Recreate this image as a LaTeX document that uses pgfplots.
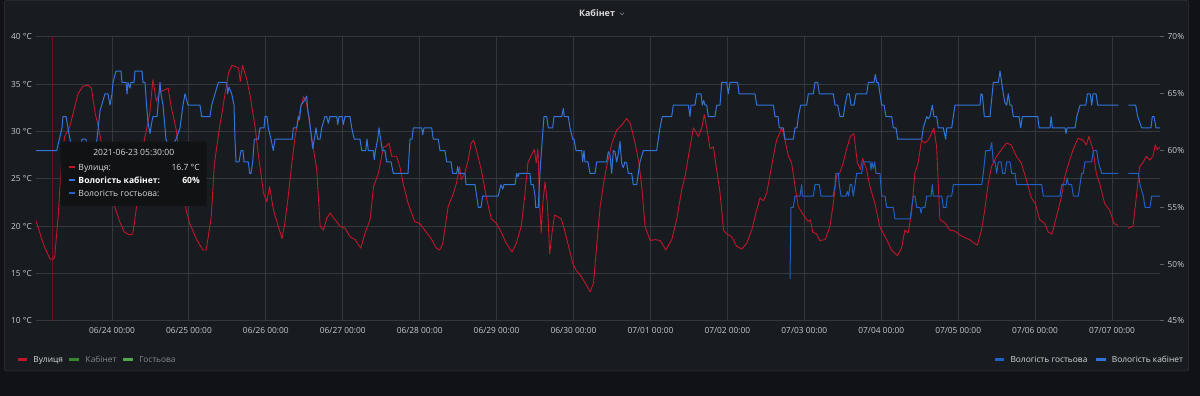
\documentclass[border=0pt]{standalone}
\usepackage{fontspec}
\setmainfont{Open Sans}
\usepackage{pgfplots}
\usepackage{pgfplotstable}
\pgfplotsset{compat=1.18}

\definecolor{bgouter}{HTML}{111217}
\definecolor{panel}{HTML}{181B1F}
\definecolor{panelborder}{HTML}{25282D}
\definecolor{gridc}{HTML}{34373C}
\definecolor{tickc}{HTML}{C7CAD0}
\definecolor{titlec}{HTML}{D8D9DA}
\definecolor{redc}{HTML}{C4162A}
\definecolor{bluek}{HTML}{3274D9}
\definecolor{blueg}{HTML}{1F60C4}
\definecolor{greenk}{HTML}{37872D}
\definecolor{greeng}{HTML}{56A64B}
\definecolor{greytext}{HTML}{85888D}
\definecolor{tipbg}{HTML}{111214}
\definecolor{tickmark}{HTML}{5A5D62}

\newcommand{\tf}{\fontsize{8.4}{10}\selectfont}
\newcommand{\ttf}{\fontsize{8.6}{10}\selectfont}

% Outdoor temperature (days since 06/23 00:00, degC)
\pgfplotstableread{
d T
0.012 20.6
0.104 18.2
0.19 16.6
0.234 16.5
0.255 16.8
0.30 21.0
0.342 26.7
0.385 29.5
0.45 30.5
0.515 32.6
0.558 34.0
0.623 34.8
0.688 34.9
0.732 34.6
0.78 32.0
0.823 30.5
0.87 28.5
0.93 25.8
0.99 23.3
1.035 22.1
1.1 20.5
1.16 19.4
1.23 19.1
1.27 19.2
1.32 22.1
1.37 26.5
1.42 29.1
1.49 31.9
1.532 35.5
1.576 33.2
1.62 34.2
1.68 34.4
1.73 34.6
1.77 32.6
1.835 30.2
1.9 26.0
1.965 21.7
2.01 20.3
2.095 18.7
2.18 17.5
2.225 17.5
2.29 21.0
2.33 26.5
2.385 29.8
2.45 33.0
2.515 36.2
2.558 37.0
2.6 36.9
2.645 36.7
2.667 35.3
2.697 37.0
2.753 35.5
2.797 33.7
2.86 30.5
2.905 27.4
2.97 23.5
3.013 22.6
3.048 24.2
3.1 21.7
3.143 20.5
3.21 18.7
3.25 20.5
3.29 23.1
3.338 26.7
3.38 29.5
3.446 32.3
3.49 33.7
3.53 33.0
3.576 30.5
3.62 28.1
3.662 26.0
3.706 20.0
3.75 19.6
3.79 20.8
3.835 21.4
3.9 20.7
3.965 20.0
4.03 19.8
4.095 18.9
4.16 18.6
4.234 17.7
4.29 19.3
4.355 20.7
4.4 24.2
4.463 25.6
4.53 28.4
4.558 28.4
4.6 28.8
4.636 27.4
4.7 27.4
4.745 26.2
4.785 24.5
4.85 22.4
4.935 20.5
5.0 20.3
5.065 19.6
5.15 18.7
5.216 17.7
5.26 17.5
5.3 18.2
5.37 22.1
5.43 23.3
5.476 24.5
5.52 26.3
5.54 24.9
5.585 25.6
5.63 27.0
5.67 28.8
5.7 29.1
5.736 28.1
5.8 26.0
5.866 23.1
5.93 20.8
6.0 20.3
6.06 19.4
6.125 18.2
6.2 17.3
6.255 18.2
6.32 20.0
6.364 23.1
6.407 26.7
6.45 27.5
6.49 28.1
6.515 26.7
6.537 28.2
6.558 22.4
6.58 19.3
6.6 22.4
6.63 24.7
6.66 22.4
6.69 17.1
6.72 19.3
6.753 21.2
6.8 21.0
6.84 20.8
6.883 19.6
6.926 18.2
6.99 16.1
7.03 15.4
7.1 14.7
7.16 13.9
7.216 13.1
7.26 14.0
7.3 17.9
7.346 22.1
7.39 24.5
7.43 26.3
7.5 28.8
7.563 30.2
7.628 30.7
7.69 31.4
7.736 30.9
7.8 28.8
7.844 27.0
7.887 24.2
7.93 20.0
7.996 18.5
8.06 18.6
8.126 18.5
8.2 17.5
8.277 18.6
8.34 20.7
8.407 23.9
8.45 25.3
8.515 28.4
8.558 30.4
8.623 29.5
8.667 30.4
8.7 31.8
8.73 30.5
8.775 28.2
8.818 28.4
8.86 26.0
8.905 23.5
8.95 19.6
8.99 19.2
9.056 18.9
9.12 17.9
9.186 17.6
9.25 18.2
9.316 19.6
9.38 21.7
9.424 23.0
9.47 22.7
9.51 23.5
9.554 25.4
9.6 27.5
9.64 29.1
9.706 30.4
9.75 29.1
9.79 27.5
9.835 26.7
9.88 24.2
9.922 22.1
9.987 21.2
10.05 20.5
10.08 20.7
10.108 19.4
10.16 19.2
10.2 18.5
10.27 18.6
10.333 20.0
10.377 22.4
10.42 25.4
10.46 25.6
10.506 26.7
10.55 28.2
10.6 29.5
10.645 29.8
10.69 26.7
10.73 26.0
10.757 27.2
10.81 26.0
10.853 24.2
10.918 22.4
10.98 20.0
11.07 18.6
11.134 17.5
11.21 16.9
11.264 17.7
11.307 19.6
11.35 19.3
11.394 21.4
11.437 25.6
11.48 26.7
11.524 29.1
11.567 28.8
11.61 29.1
11.654 29.8
11.684 30.4
11.72 28.4
11.762 20.7
11.827 20.4
11.89 19.6
11.957 19.5
12.02 19.1
12.087 18.8
12.15 18.6
12.195 18.3
12.25 18.0
12.303 19.6
12.346 21.7
12.39 24.5
12.433 26.3
12.5 27.4
12.563 28.1
12.628 28.8
12.69 28.6
12.757 27.4
12.82 26.7
12.887 24.9
12.952 23.0
13.004 22.4
13.06 20.7
13.126 20.3
13.17 19.4
13.22 19.2
13.277 21.0
13.342 23.1
13.385 25.2
13.437 26.7
13.494 28.1
13.558 29.3
13.623 29.1
13.667 28.6
13.7 29.5
13.753 28.1
13.796 25.6
13.84 24.5
13.905 22.4
13.97 21.7
14.026 20.3
14.078 20.1
14.14 nan
14.208 19.8
14.273 20.0
14.316 23.1
14.36 26.3
14.4 26.7
14.446 27.4
14.49 27.0
14.532 27.4
14.563 28.6
14.59 28.1
14.624 28.4
}\redT

% Humidity, cabinet (%)
\pgfplotstableread{
d H
0.012 60
0.281 60
0.315 61
0.35 62
0.363 63
0.403 63
0.428 62
0.454 61
0.49 60
0.584 60
0.61 61
0.66 61
0.688 60
0.779 60
0.805 61
0.844 63.5
0.909 65
0.948 65
0.974 64
1.0 65
1.013 66
1.052 67
1.117 67
1.13 66
1.182 66
1.195 65
1.208 66
1.234 65.5
1.247 66
1.286 66
1.299 67
1.39 67
1.403 66
1.429 66
1.449 64
1.468 62.5
1.494 61.5
1.52 62.6
1.533 63
1.585 63
1.624 66
1.637 65
1.663 64
1.702 61
1.754 60
1.832 61
1.884 62
1.923 64
1.949 65
1.988 64
2.144 64
2.166 63
2.274 63
2.296 64
2.339 65
2.382 66
2.491 66
2.504 65
2.521 65.6
2.556 65
2.586 64
2.599 61
2.612 59
2.651 59
2.677 60
2.703 60
2.716 59
2.772 59
2.79 58
2.807 58
2.829 59
2.85 61
2.902 61
2.924 62
2.976 62
2.989 63
3.015 63
3.032 62
3.067 61
3.097 60
3.119 61
3.344 61
3.357 62
3.401 62
3.422 63
3.437 62.7
3.457 64
3.509 64.5
3.531 64.8
3.544 63.6
3.561 63
3.596 61
3.609 60.2
3.63 61
3.652 62
3.674 61
3.704 61
3.726 62
3.769 63
3.791 63
3.812 62.4
3.834 63
3.921 63
3.934 62.3
3.951 63
3.99 63
4.007 62.3
4.029 63
4.094 63
4.116 62
4.15 61
4.224 61
4.246 60
4.298 60
4.315 61
4.332 60
4.397 60
4.41 59.2
4.425 60
4.454 61
4.471 62
4.493 61
4.514 60
4.549 60
4.571 59
4.627 59
4.657 58
4.848 58
4.874 61
4.9 61
4.917 62
5.026 62
5.039 61.4
5.056 62
5.156 62
5.177 61
5.242 61
5.264 60
5.329 60
5.351 59
5.407 59
5.429 58
5.481 58
5.494 58.6
5.511 58
5.589 58
5.602 57
5.719 57
5.741 56
5.762 55
5.797 55
5.819 56
6.022 56
6.044 56.7
6.057 57
6.079 56.6
6.096 57
6.239 57
6.261 58
6.278 57.7
6.291 58
6.434 58
6.447 57
6.477 57
6.499 56
6.508 55
6.542 55
6.555 57
6.573 59
6.594 61
6.616 63
6.651 63
6.672 62
6.729 62
6.746 63
6.846 63
6.867 63.7
6.88 63
6.932 63
6.954 62
6.989 61
7.006 61
7.032 60
7.106 60
7.119 59
7.136 60
7.149 59
7.188 59
7.214 58
7.279 58
7.301 59
7.431 59
7.452 59.9
7.474 59.6
7.496 58
7.517 60
7.539 59.9
7.561 59
7.582 59.7
7.604 60.8
7.626 58.9
7.647 58.5
7.669 59
7.691 58.9
7.712 58
7.756 58
7.777 57
7.821 57
7.842 58
7.864 59
7.907 60
8.081 60
8.102 61
8.124 62
8.154 63
8.276 63
8.297 64
8.492 64
8.514 63
8.527 64
8.579 64
8.601 65
8.657 65
8.674 64
8.692 64.4
8.709 64
8.731 64
8.752 63
8.839 63
8.861 64
8.904 64
8.926 66
8.991 66
9.012 65
9.034 66
9.134 66
9.151 65
9.359 65
9.381 64
9.597 64
9.619 63
9.658 63
9.675 62
9.727 62
9.749 61
9.857 61
9.879 62
9.905 62
9.922 63
9.953 64
10.031 64
10.052 65
10.117 65
10.139 66
10.174 66
10.195 65
10.377 65
10.399 64
10.434 64
10.464 63
10.507 63
10.529 64
10.559 65
10.585 65
10.607 64
10.646 64
10.672 65
10.811 65
10.832 66
10.906 66
10.923 66.7
10.941 66
10.962 66
10.984 65
11.006 64
11.036 64
11.062 63
11.136 63
11.157 62
11.192 62
11.214 61
11.526 61
11.547 62
11.591 63
11.612 62.8
11.634 63
11.664 64
11.686 63
11.721 63
11.742 62
11.807 62
11.838 61
11.851 62
11.916 62
11.937 63
11.959 64
12.284 64
12.297 65
12.315 64.9
12.34 63
12.414 63
12.457 66
12.522 66
12.544 67
12.566 66
12.587 65
12.609 64.2
12.631 64
12.652 65
12.674 64
12.696 64
12.717 63
12.791 63
12.813 62
12.835 63
13.035 63
13.052 62
13.195 62
13.208 63
13.225 62
13.39 62
13.403 61.5
13.416 62
13.52 62
13.542 63
13.585 64
13.659 64
13.68 65
13.716 65
13.737 64
13.754 65
13.793 65
13.815 64
14.082 64
14.14 nan
14.212 64
14.308 64
14.334 63
14.386 62
14.507 62
14.524 63
14.546 63
14.572 62
14.624 62
}\humK

% Humidity, guest room (%)
\pgfplotstableread{
d H
9.814 48.7
9.827 55
9.857 55
9.879 56
9.944 56
9.966 57
9.974 56
10.117 56
10.139 57
10.195 57
10.217 56
10.377 56
10.399 57
10.412 58
10.442 58
10.455 57
10.477 56
10.542 56
10.559 56.4
10.577 56
10.594 57
10.616 57
10.637 56
10.659 57
10.681 58
10.746 58
10.767 59
10.854 59
10.867 58.3
10.88 59
10.897 58.4
10.915 59
10.932 58
10.984 58
11.006 56
11.05 56
11.071 55
11.157 55
11.179 54
11.374 54
11.396 55
11.417 56
11.439 56
11.461 55
11.504 55
11.517 54.5
11.534 55
11.569 55
11.591 56
11.647 56
11.664 57
11.677 56
11.786 56
11.807 55
11.842 55
11.859 56
11.916 56
11.937 57
12.306 57
12.327 58
12.358 60
12.414 60
12.436 60.7
12.457 59
12.479 59
12.501 58
12.522 59
12.557 59
12.579 58
12.609 58
12.631 59
12.674 59
12.696 58
12.739 58
12.761 57
13.086 57
13.107 56
13.324 56
13.346 57
13.403 57
13.416 57.6
13.433 57
13.476 57
13.497 56
13.562 56
13.584 57
13.606 58
13.627 58
13.649 59
13.736 59
13.757 60
13.801 60
13.822 59
13.866 58
14.082 58
14.14 nan
14.212 58
14.342 58
14.364 57
14.407 56
14.429 55
14.494 55
14.516 56
14.624 56
}\humG

\begin{document}
\begin{tikzpicture}
\begin{scope}[x=1bp,y=1bp]
\fill[bgouter] (0,0) rectangle (1200,396);
\draw[panelborder, fill=panel, rounded corners=2bp, line width=1bp] (4.5,25) rectangle (1188.5,395.5);
\node[font=\fontsize{9}{11}\selectfont\bfseries, text=titlec, anchor=base, inner sep=0pt] at (597,380) {Кабінет};
\draw[greytext, line width=0.6bp] (620,383.3) -- (622,381.3) -- (624,383.3);
\end{scope}

\begin{axis}[
  at={(36bp,75bp)}, anchor=south west,
  width=1124bp, height=284bp, scale only axis,
  xmin=0.012, xmax=14.624, ymin=10, ymax=40,
  axis line style={draw=none},
  xtick={1,2,...,14},
  xticklabels={06/24 00:00,06/25 00:00,06/26 00:00,06/27 00:00,06/28 00:00,06/29 00:00,06/30 00:00,07/01 00:00,07/02 00:00,07/03 00:00,07/04 00:00,07/05 00:00,07/06 00:00,07/07 00:00},
  ytick={10,15,...,40},
  yticklabels={10 °C,15 °C,20 °C,25 °C,30 °C,35 °C,40 °C},
  major tick length=0pt,
  grid=major, grid style={gridc, line width=1bp},
  tick label style={font=\tf, text=tickc},
  yticklabel style={inner sep=0pt, anchor=east, xshift=-4bp},
  xticklabel style={inner sep=0pt, anchor=north, yshift=-6.5bp},
  unbounded coords=jump,
]
\draw[redc!60!black, line width=0.7bp] (axis cs:0.229,10) -- (axis cs:0.229,40);
\addplot[redc, line width=0.9bp, line join=round] table[x=d, y=T] {\redT};
\end{axis}

\begin{axis}[
  at={(36bp,75bp)}, anchor=south west,
  width=1124bp, height=284bp, scale only axis,
  xmin=0.012, xmax=14.624, ymin=45, ymax=70,
  axis x line=none, axis y line*=right,
  y axis line style={draw=none},
  ytick={45,50,...,70},
  yticklabels={45\%,50\%,55\%,60\%,65\%,70\%},
  major tick length=3.5bp, tick align=outside,
  ytick style={tickmark, line width=1bp},
  yticklabel style={font=\tf, text=tickc, inner sep=0pt, anchor=west, xshift=4bp},
  unbounded coords=jump,
]
\addplot[blueg, line width=1bp, line join=round] table[x=d, y=H] {\humG};
\addplot[bluek, line width=1bp, line join=round] table[x=d, y=H] {\humK};
\end{axis}

\begin{scope}[x=1bp,y=1bp]
% tooltip
\fill[tipbg, rounded corners=2bp] (60.7,190) rectangle (206.7,254.3);
\node[font=\ttf, text=titlec, anchor=base, inner sep=0pt] at (133.7,240.3) {2021-06-23 05:30:00};
\draw[redc, line width=2bp] (69.3,228.5) -- (75,228.5);
\node[font=\ttf, text=titlec, anchor=base west, inner sep=0pt] at (78.3,225.7) {Вулиця:};
\node[font=\ttf, text=titlec, anchor=base east, inner sep=0pt] at (200,225.7) {16.7 °C};
\draw[bluek, line width=2bp] (69.3,215.5) -- (75,215.5);
\node[font=\ttf\bfseries, text=white, anchor=base west, inner sep=0pt] at (78.3,212.3) {Вологість кабінет:};
\node[font=\ttf\bfseries, text=white, anchor=base east, inner sep=0pt] at (200,212.3) {60\%};
\draw[blueg, line width=2bp] (69.3,203) -- (75,203);
\node[font=\ttf, text=titlec, anchor=base west, inner sep=0pt] at (78.3,199.7) {Вологість гостьова:};
% legend
\draw[redc, line width=3bp] (18.3,36.3) -- (27.3,36.3);
\node[font=\tf, text=titlec, anchor=base west, inner sep=0pt] at (33.3,33.3) {Вулиця};
\draw[greenk, line width=3bp] (69.3,36.3) -- (79.3,36.3);
\node[font=\tf, text=greytext, anchor=base west, inner sep=0pt] at (85.5,33.3) {Кабінет};
\draw[greeng, line width=3bp] (123.3,36.3) -- (133.3,36.3);
\node[font=\tf, text=greytext, anchor=base west, inner sep=0pt] at (139.3,33.3) {Гостьова};
\draw[blueg, line width=3bp] (995,36.3) -- (1004.3,36.3);
\node[font=\tf, text=titlec, anchor=base west, inner sep=0pt] at (1010.3,33.3) {Вологість гостьова};
\draw[bluek, line width=3bp] (1096,36.3) -- (1105.7,36.3);
\node[font=\tf, text=titlec, anchor=base west, inner sep=0pt] at (1111.7,33.3) {Вологість кабінет};
\end{scope}
\pgfresetboundingbox
\path[use as bounding box] (0,0) rectangle (1200bp,396bp);
\end{tikzpicture}
\end{document}
